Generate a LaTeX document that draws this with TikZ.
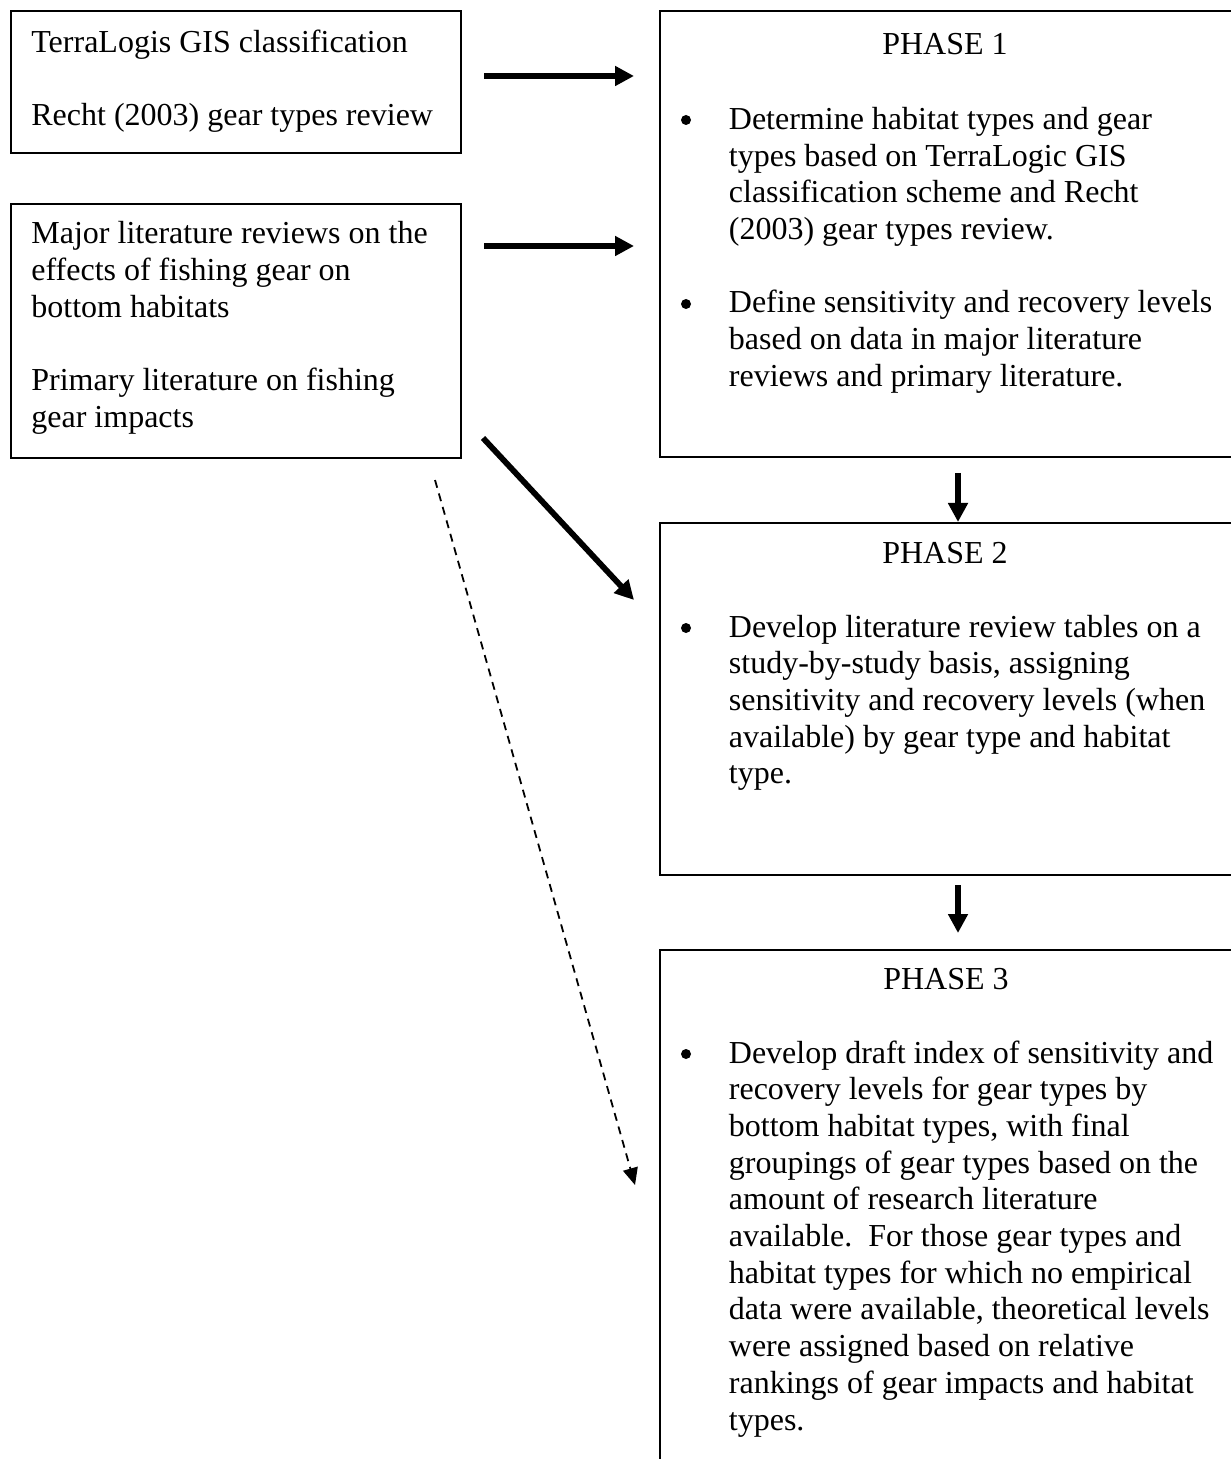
\documentclass[tikz,border=0pt]{standalone}
\usepackage{fontspec}
\setmainfont{Liberation Serif}
\usetikzlibrary{arrows.meta}
\begin{document}
\begin{tikzpicture}[x=0.5pt,y=-0.5pt,
  box/.style={draw, line width=1pt, anchor=north west, inner sep=0pt},
  txt/.style={anchor=base west, inner sep=0pt, font=\fontsize{16}{18.35}\selectfont},
  ttl/.style={anchor=base, inner sep=0pt, font=\fontsize{16}{18.35}\selectfont},
  bul/.style={circle, fill, inner sep=0pt, minimum size=5pt},
  thickarrow/.style={line width=2.9pt, -{Triangle[length=9.5pt,width=9.5pt]}},
  dasharrow/.style={line width=0.9pt, dash pattern=on 4pt off 3pt, -{Triangle[length=8.5pt,width=7.5pt]}}
]
\useasboundingbox (0,0) rectangle (1230,1459);

% boxes
\node[box, minimum width=225pt, minimum height=71pt] (boxA) at (10,10) {};
\node[box, minimum width=225pt, minimum height=127pt] (boxB) at (10,203) {};
\node[box, minimum width=287.5pt, minimum height=223pt] (p1) at (659,10) {};
\node[box, minimum width=287.5pt, minimum height=176pt] (p2) at (659,522) {};
\node[box, minimum width=287.5pt, minimum height=260.5pt] (p3) at (659,949) {};

% left texts
\node[txt] (tA) at (31,52.5) {\parbox[t]{260pt}{\raggedright TerraLogis GIS classification\\[18.35pt]Recht (2003) gear types review}};
\node[txt] (tB) at (31,244) {\parbox[t]{260pt}{\raggedright Major literature reviews on the\\effects of fishing gear on\\bottom habitats\\[18.35pt]Primary literature on fishing\\gear impacts}};

% phase titles
\node[ttl] (h1) at (945,55) {PHASE 1};
\node[ttl] (h2) at (945,563) {PHASE 2};
\node[ttl] (h3) at (946,989) {PHASE 3};

% bullets
\node[bul] (b1) at (686,120) {};
\node[bul] (b2) at (686,304) {};
\node[bul] (b3) at (686,628) {};
\node[bul] (b4) at (686,1054) {};

% phase texts
\node[txt] (t1) at (728.5,129.5) {\parbox[t]{260pt}{\raggedright Determine habitat types and gear\\types based on TerraLogic GIS\\classification scheme and Recht\\(2003) gear types review.\\[18.35pt]Define sensitivity and recovery levels\\based on data in major literature\\reviews and primary literature.}};
\node[txt] (t2) at (728.5,637) {\parbox[t]{260pt}{\raggedright Develop literature review tables on a\\study-by-study basis, assigning\\sensitivity and recovery levels (when\\available) by gear type and habitat\\type.}};
\node[txt] (t3) at (728.5,1063) {\parbox[t]{260pt}{\raggedright Develop draft index of sensitivity and\\recovery levels for gear types by\\bottom habitat types, with final\\groupings of gear types based on the\\amount of research literature\\available.\ \ For those gear types and\\habitat types for which no empirical\\data were available, theoretical levels\\were assigned based on relative\\rankings of gear impacts and habitat\\types.}};

% connector end points
\coordinate (s1) at (484,76);  \coordinate (e1) at (634,76);
\coordinate (s2) at (484,246); \coordinate (e2) at (634,246);
\coordinate (s3) at (483,438); \coordinate (e3) at (634,600);
\coordinate (s4) at (958,473); \coordinate (e4) at (958,522);
\coordinate (s5) at (958,885); \coordinate (e5) at (958,933);
\coordinate (s6) at (435,480); \coordinate (e6) at (635,1185);

\draw[thickarrow] (s1) -- (e1);
\draw[thickarrow] (s2) -- (e2);
\draw[thickarrow] (s3) -- (e3);
\draw[thickarrow] (s4) -- (e4);
\draw[thickarrow] (s5) -- (e5);
\draw[dasharrow] (s6) -- (e6);
\end{tikzpicture}
\end{document}
